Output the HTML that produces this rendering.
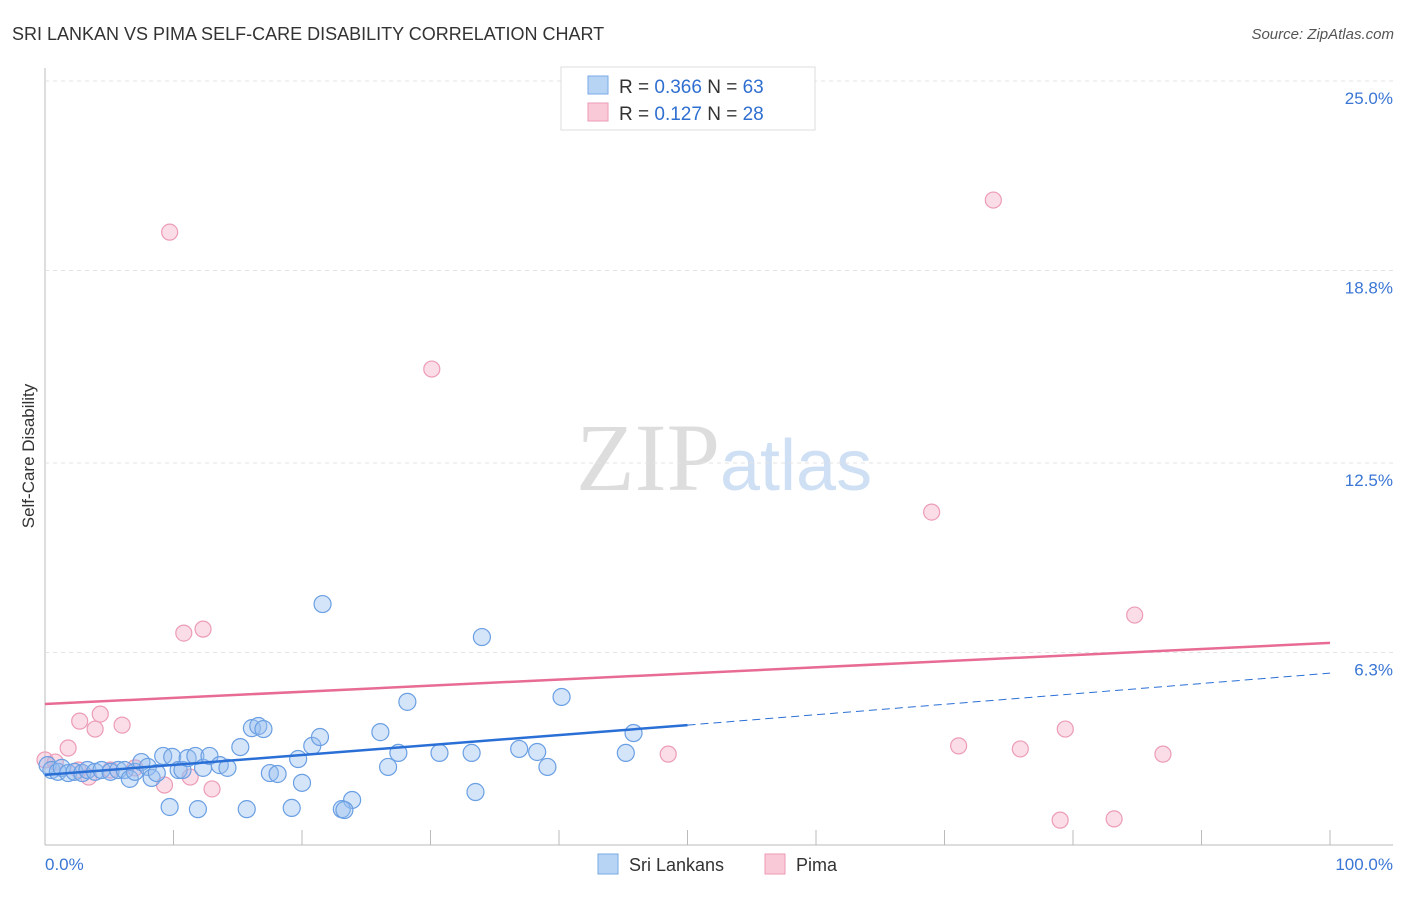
<!DOCTYPE html>
<html><head><meta charset="utf-8"><style>
body{margin:0;background:#fff;font-family:"Liberation Sans",sans-serif}
</style></head><body>
<svg id="c" width="1406" height="892" xmlns="http://www.w3.org/2000/svg">
<text x="12" y="40" font-size="18" fill="#333">SRI LANKAN VS PIMA SELF-CARE DISABILITY CORRELATION CHART</text>
<text x="1394" y="39" font-size="15" fill="#555" font-style="italic" text-anchor="end">Source: ZipAtlas.com</text>
<text x="34" y="456" font-size="17" fill="#333" transform="rotate(-90 34 456)" text-anchor="middle">Self-Care Disability</text>
<text x="720" y="490" font-size="96" fill="#ddd" text-anchor="end" font-family="Liberation Serif">ZIP</text>
<text x="720" y="490" font-size="72" fill="#cfe0f5">atlas</text>
<g id="grid"></g><g id="marks"></g>
<g>
<rect x="561" y="67" width="254" height="63" fill="#fff" stroke="#ddd"/>
<rect x="588" y="76" width="20" height="18" fill="#b8d4f5" stroke="#7aaae8"/>
<rect x="588" y="103" width="20" height="18" fill="#f9c9d8" stroke="#ee9ab5"/>
<text x="619" y="93" font-size="19" fill="#333">R = <tspan fill="#2f6fd0">0.366</tspan>   N = <tspan fill="#2f6fd0">63</tspan></text>
<text x="619" y="120" font-size="19" fill="#333">R =  <tspan fill="#2f6fd0">0.127</tspan>   N = <tspan fill="#2f6fd0">28</tspan></text>
</g>
<g>
<rect x="598" y="854" width="20" height="20" fill="#b8d4f5" stroke="#7aaae8"/>
<text x="629" y="871" font-size="18" fill="#333">Sri Lankans</text>
<rect x="765" y="854" width="20" height="20" fill="#f9c9d8" stroke="#ee9ab5"/>
<text x="796" y="871" font-size="18" fill="#333">Pima</text>
</g>
</svg>
<script>
const yTicks=[25.0,18.8,12.5,6.3];
const yTickLabels=["25.0%","18.8%","12.5%","6.3%"];
const xTickLabels=["0.0%","100.0%"];
const blueX=[0.2,0.5,1.0,1.3,1.8,2.3,2.9,3.3,3.9,4.4,5.1,5.7,6.2,6.6,7.0,7.5,8.0,8.3,8.7,9.2,9.9,10.4,10.7,11.1,11.7,12.3,12.8,13.6,14.2,15.2,16.1,16.6,17.0,17.5,18.1,19.7,20.0,20.8,21.4,21.6,23.9,23.1,26.1,26.7,27.5,28.2,30.7,33.2,33.5,34.0,36.9,38.3,39.1,40.2,45.2,45.8,9.7,11.9,15.7,19.2,23.3];
const blueY=[3.17,3.01,2.95,3.08,2.91,2.95,2.91,3.01,2.95,3.01,2.95,3.01,3.01,2.72,2.95,3.27,3.11,2.75,2.91,3.47,3.44,3.01,3.01,3.40,3.47,3.08,3.47,3.17,3.08,3.76,4.38,4.45,4.35,2.91,2.88,3.37,2.59,3.80,4.09,8.44,2.03,1.73,4.25,3.11,3.57,5.24,3.57,3.57,2.29,7.36,3.70,3.60,3.11,5.40,3.57,4.22,1.80,1.73,1.73,1.77,1.70];
const pinkX=[0,0.8,1.8,2.7,3.9,4.3,2.6,3.4,5.1,6.0,7.0,9.3,10.8,12.3,11.3,13.0,9.7,30.1,48.5,69.0,71.1,73.8,75.9,79.0,79.4,83.2,84.8,87.0];
const pinkY=[3.34,3.27,3.73,4.61,4.35,4.84,3.01,2.78,3.01,4.48,3.08,2.52,7.49,7.62,2.78,2.39,20.61,16.13,3.53,11.45,3.80,21.66,3.70,1.37,4.35,1.41,8.08,3.53];
const blueTrend=[2.85,4.48,6.18];
const pinkTrend=[5.17,7.17];
const NS="http://www.w3.org/2000/svg";
const X=v=>45+v*12.85, Y=v=>862-v*30.56;
function mk(t,a,p){const e=document.createElementNS(NS,t);for(const k in a)e.setAttribute(k,a[k]);p.appendChild(e);return e;}
const g=document.getElementById('grid'),m=document.getElementById('marks');
mk('line',{x1:45,y1:68,x2:45,y2:845,stroke:'#bbb'},g);
mk('line',{x1:45,y1:845,x2:1393,y2:845,stroke:'#bbb'},g);
for(let i=0;i<=10;i++){const l=mk('line',{x1:45+i*128.5,y1:830,x2:45+i*128.5,y2:845,stroke:'#bbb'},g);

}
yTicks.forEach((t,i)=>{const l=mk('line',{x1:45,x2:1393,y1:Y(t)-17,y2:Y(t)-17,stroke:'#e3e3e3','stroke-dasharray':'4,4'},g);


const tx=mk('text',{x:1393,y:Y(t)+6,'font-size':17,fill:'#3a76d4','text-anchor':'end'},g);tx.textContent=yTickLabels[i];

});
[[45,'start'],[1393,'end']].forEach((p,i)=>{const tx=mk('text',{x:p[0],y:870,'font-size':17,fill:'#3a76d4','text-anchor':p[1]},g);tx.textContent=xTickLabels[i];

});
pinkX.forEach((x,i)=>{const c=mk('circle',{cx:X(x),cy:Y(pinkY[i]),r:8,fill:'rgba(246,170,195,0.4)',stroke:'#ec9cb6','stroke-width':1.2},m);

});
blueX.forEach((x,i)=>{const c=mk('circle',{cx:X(x),cy:Y(blueY[i]),r:8.5,fill:'rgba(150,190,240,0.4)',stroke:'#6a9fe3','stroke-width':1.2},m);

});
let l=mk('line',{x1:X(0),y1:Y(pinkTrend[0]),x2:X(100),y2:Y(pinkTrend[1]),stroke:'#e86b94','stroke-width':2.5},m);


l=mk('line',{x1:X(0),y1:Y(blueTrend[0]),x2:X(50),y2:Y(blueTrend[1]),stroke:'#2a6fd6','stroke-width':2.5},m);


l=mk('line',{x1:X(50),y1:Y(blueTrend[1]),x2:X(100),y2:Y(blueTrend[2]),stroke:'#2a6fd6','stroke-width':1,'stroke-dasharray':'8,5'},m);


</script>
</body></html>
